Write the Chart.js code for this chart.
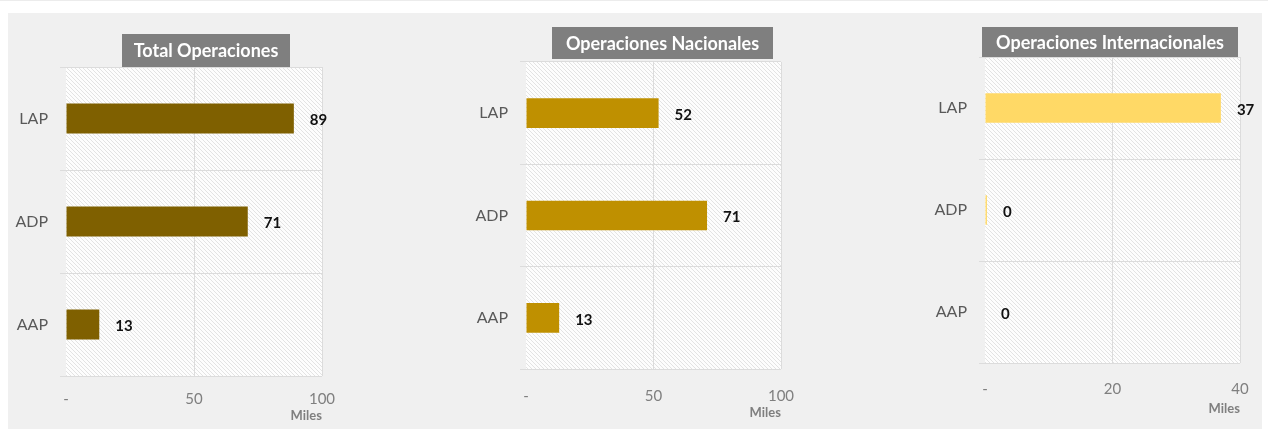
<!DOCTYPE html>
<html>
<head>
<meta charset="utf-8">
<script src="https://cdn.jsdelivr.net/npm/chart.js@4/dist/chart.umd.min.js"></script>
<style>
  body { margin: 0; background: #fff; width: 1268px; height: 430px; position: relative; overflow: hidden; border-top: 1px solid #ececec; box-sizing: border-box; }
  #panel { position: absolute; left: 8px; top: 12px; width: 1254px; height: 416px; background: #f0f0f0; }
  canvas { position: absolute; }
</style>
</head>
<body>
<div id="panel"></div>
<canvas id="c1"></canvas>
<canvas id="c2"></canvas>
<canvas id="c3"></canvas>
<script>
// categories and values (miles of operations)
const categories = ['LAP', 'ADP', 'AAP'];
const totalOps = [89, 71, 13];
const nationalOps = [52, 71, 13];
const internationalOps = [37, 0.3, 0];

const titles = ['Total Operaciones', 'Operaciones Nacionales', 'Operaciones Internacionales'];
const axisMax = [100, 100, 40];
const axisStep = [50, 50, 20];
const axisTitle = 'Miles';

// layout of each chart, page pixels
const boxes = [
  { id: 'c1', left: 8, width: 410, plot: [66, 66, 322, 375], titleBox: [122, 33, 290, 66], ticksPad: 14, milesY: 416, color: '#7f6000' },
  { id: 'c2', left: 440, width: 400, plot: [526, 61, 781, 368], titleBox: [552, 26, 773, 58], ticksPad: 18, milesY: 413, color: '#bf9000' },
  { id: 'c3', left: 880, width: 388, plot: [985, 56, 1240, 362], titleBox: [982, 26, 1238, 56], ticksPad: 17, milesY: 409, color: '#ffd966' },
];
const series = [totalOps, nationalOps, internationalOps];
const TOP = 12, HEIGHT = 416;

function hatch() {
  const c = document.createElement('canvas');
  c.width = 4; c.height = 4;
  const g = c.getContext('2d');
  g.fillStyle = '#fdfdfd';
  g.fillRect(0, 0, 4, 4);
  g.strokeStyle = '#e3e3e3';
  g.lineWidth = 1;
  g.beginPath();
  g.moveTo(-1, -1); g.lineTo(5, 5);
  g.moveTo(-1, 3); g.lineTo(1, 5);
  g.moveTo(3, -1); g.lineTo(5, 1);
  g.stroke();
  return c;
}

const plotBg = {
  id: 'plotBg',
  beforeDraw(chart, args, opts) {
    const { ctx, chartArea: a } = chart;
    ctx.save();
    ctx.fillStyle = ctx.createPattern(hatch(), 'repeat');
    ctx.fillRect(a.left, a.top, a.right - a.left, a.bottom - a.top);
    // title box
    const [x1, y1, x2, y2] = opts.box;
    ctx.fillStyle = '#7f7f7f';
    ctx.fillRect(x1, y1, x2 - x1, y2 - y1);
    ctx.fillStyle = '#ffffff';
    ctx.font = 'bold 18px Lato';
    ctx.textAlign = 'center';
    ctx.textBaseline = 'middle';
    ctx.fillText(opts.text, (x1 + x2) / 2, (y1 + y2) / 2 + 1);
    ctx.restore();
  }
};

const valueLabels = {
  id: 'valueLabels',
  afterDatasetsDraw(chart) {
    const { ctx } = chart;
    const meta = chart.getDatasetMeta(0);
    const vals = chart.data.datasets[0].data;
    ctx.save();
    ctx.fillStyle = '#111';
    ctx.font = 'bold 15px Lato';
    ctx.textAlign = 'left';
    ctx.textBaseline = 'middle';
    meta.data.forEach((bar, i) => {
      ctx.fillText(String(Math.round(vals[i])), bar.x + 16, bar.y + 2);
    });
    ctx.restore();
  }
};

boxes.forEach((b, k) => {
  const cv = document.getElementById(b.id);
  cv.style.left = b.left + 'px';
  cv.style.top = TOP + 'px';
  cv.width = b.width;
  cv.height = HEIGHT;
  const [pl, pt, pr, pb] = b.plot;
  const xHeight = b.milesY + 7 - pb;
  const bottomPad = TOP + HEIGHT - (pb + xHeight);

  new Chart(cv, {
    type: 'bar',
    data: {
      labels: categories,
      datasets: [{
        data: series[k],
        backgroundColor: b.color,
        barPercentage: 0.29,
        categoryPercentage: 1,
      }]
    },
    options: {
      indexAxis: 'y',
      responsive: false,
      animation: false,
      layout: {
        padding: { left: 0, top: pt - TOP, right: b.left + b.width - pr, bottom: bottomPad }
      },
      plugins: {
        legend: { display: false },
        tooltip: { enabled: false },
        plotBg: {
          box: [b.titleBox[0] - b.left, b.titleBox[1] - TOP, b.titleBox[2] - b.left, b.titleBox[3] - TOP],
          text: titles[k]
        }
      },
      scales: {
        x: {
          min: 0,
          max: axisMax[k],
          afterFit(s) { s.height = xHeight; },
          ticks: {
            stepSize: axisStep[k],
            padding: b.ticksPad,
            color: '#7f7f7f',
            font: { family: 'Lato', size: 15 },
            callback: v => v === 0 ? '-' : v
          },
          grid: {
            drawTicks: false,
            color: ctx => ctx.tick && ctx.tick.value === 0 ? 'rgba(0,0,0,0)' : '#dcdcdc'
          },
          border: { display: false },
          title: {
            display: true,
            text: axisTitle,
            align: 'end',
            color: '#7f7f7f',
            font: { family: 'Lato', size: 13, weight: 'bold' },
            padding: 0
          }
        },
        y: {
          afterFit(s) { s.width = pl - b.left; },
          ticks: {
            color: '#595959',
            padding: 12,
            font: { family: 'Lato', size: 16 }
          },
          grid: {
            color: '#dcdcdc',
            tickLength: 6
          },
          border: { display: false }
        }
      }
    },
    plugins: [plotBg, valueLabels]
  });
});
</script>
</body>
</html>
